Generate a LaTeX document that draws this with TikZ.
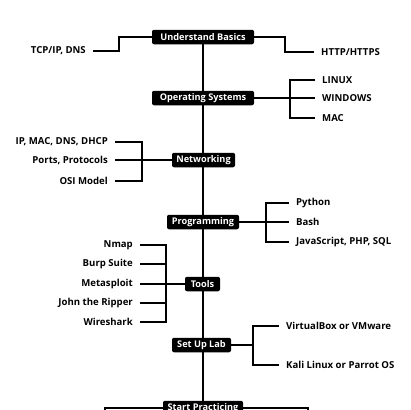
\documentclass[tikz,border=0pt]{standalone}
\usepackage{fontspec}
\setmainfont{Open Sans}
\usetikzlibrary{backgrounds}
\tikzset{
  stage/.style={fill=black, text=white, font=\bfseries\fontsize{9.2}{10}\selectfont,
    rounded corners=2pt, inner xsep=3pt, inner ysep=0pt, minimum height=14.5pt},
  lt/.style={anchor=east, font=\bfseries\fontsize{9.6}{11}\selectfont, inner xsep=7pt, inner ysep=1pt},
  rt/.style={anchor=west, font=\bfseries\fontsize{9.6}{11}\selectfont, inner xsep=7pt, inner ysep=1pt},
  spine/.style={line width=2.4pt},
  br/.style={line width=1.6pt},
}
\begin{document}
\begin{tikzpicture}[x=1pt,y=-1pt]
\useasboundingbox (0,0) rectangle (410,410);
\clip (0,0) rectangle (410,410);
% stages
\node[stage, minimum width=102pt] (ub) at (203,37) {Understand Basics};
\node[stage, minimum width=102pt] (os) at (203,98) {Operating Systems};
\node[stage, minimum width=63pt] (net) at (203.5,160) {Networking};
\node[stage, minimum width=72pt] (prog) at (203,222) {Programming};
\node[stage, minimum width=35pt] (tools) at (202.5,284) {Tools};
\node[stage, minimum width=59pt] (lab) at (201.5,345) {Set Up Lab};
\node[stage, minimum width=80pt] (sp) at (203,408) {Start Practicing};
% items
\node[lt] (tcp) at (93,51) {TCP/IP, DNS};
\node[rt] (http) at (314,52) {HTTP/HTTPS};
\node[rt] (linux) at (315,80) {LINUX};
\node[rt] (win) at (315,98) {WINDOWS};
\node[rt] (mac) at (315,118) {MAC};
\node[lt] (ip) at (115,142) {IP, MAC, DNS, DHCP};
\node[lt] (ports) at (115,160) {Ports, Protocols};
\node[lt] (osi) at (115,181) {OSI Model};
\node[rt] (py) at (289,203) {Python};
\node[rt] (bash) at (289,222) {Bash};
\node[rt] (js) at (289,242) {JavaScript, PHP, SQL};
\node[lt] (nmap) at (140,245) {Nmap};
\node[lt] (burp) at (140,264) {Burp Suite};
\node[lt] (meta) at (140,284) {Metasploit};
\node[lt] (john) at (140,303) {John the Ripper};
\node[lt] (wire) at (140,322) {Wireshark};
\node[rt] (vb) at (279,326) {VirtualBox or VMware};
\node[rt] (kali) at (279,365) {Kali Linux or Parrot OS};
\coordinate (spl) at (105,408);
\coordinate (spr) at (308,408);
\coordinate (spbl) at (105,425);
\coordinate (spbr) at (308,425);
\begin{scope}[on background layer]
\draw[spine] (ub) -- (sp);
\draw[br] (ub.west) -- ++(-33,0) |- (tcp.east);
\draw[br] (ub.east) -- ++(31,0) |- (http.west);
\draw[br] (os.east) -- (win.west);
\draw[br] (linux.west) -- ++(-25,0) |- (mac.west);
\draw[br] (net.west) -- (ports.east);
\draw[br] (ip.east) -- ++(27,0) |- (osi.east);
\draw[br] (prog.east) -- (bash.west);
\draw[br] (py.west) -- ++(-23,0) |- (js.west);
\draw[br] (tools.west) -- (meta.east);
\draw[br] (nmap.east) -- ++(26,0) |- (wire.east);
\draw[br] (burp.east) -- ++(26,0);
\draw[br] (john.east) -- ++(26,0);
\draw[br] (lab.east) -- ++(22,0);
\draw[br] (vb.west) -- ++(-26,0) |- (kali.west);
\draw[br] (spbl) -- (spl) -- (spr) -- (spbr);
\end{scope}
\end{tikzpicture}
\end{document}
